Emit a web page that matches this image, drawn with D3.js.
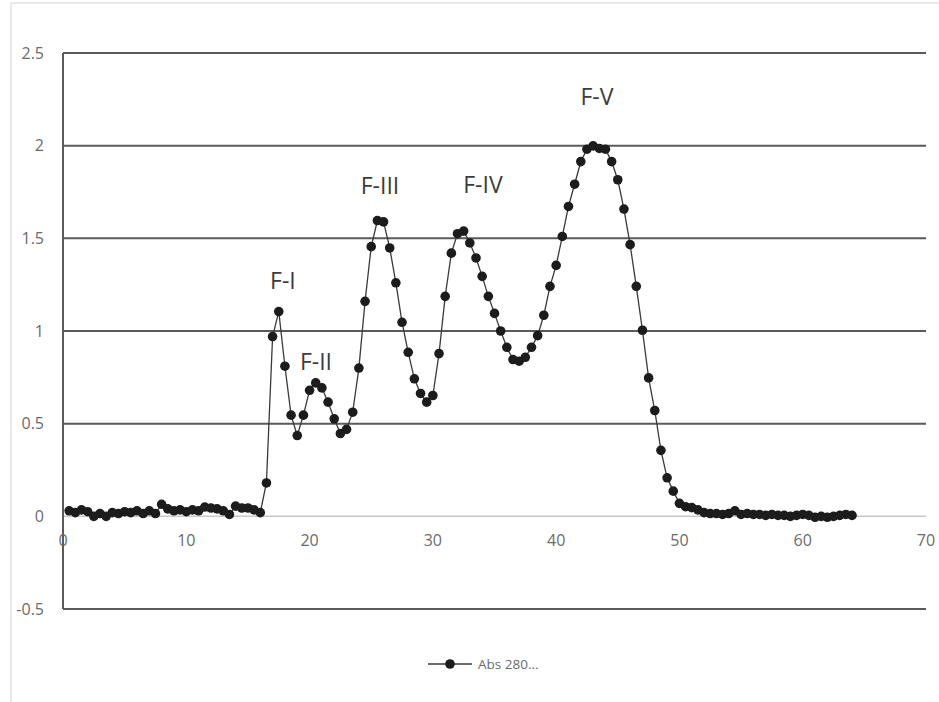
<!DOCTYPE html>
<meta charset="utf-8">
<script src="https://d3js.org/d3.v7.min.js"></script>
<style>
body { margin: 0; background: #fff; }
svg text { font-family: "Open Sans", "Liberation Sans", sans-serif; }
</style>
<body>
<div id="chart"></div>
<script>
// elution volume (x) and absorbance at 280 nm (y)
var volume = [0.5,1,1.5,2,2.5,3,3.5,4,4.5,5,5.5,6,6.5,7,7.5,8,8.5,9,9.5,10,
  10.5,11,11.5,12,12.5,13,13.5,14,14.5,15,15.5,16,16.5,17,17.5,18,18.5,19,19.5,20,
  20.5,21,21.5,22,22.5,23,23.5,24,24.5,25,25.5,26,26.5,27,27.5,28,28.5,29,29.5,30,
  30.5,31,31.5,32,32.5,33,33.5,34,34.5,35,35.5,36,36.5,37,37.5,38,38.5,39,39.5,40,
  40.5,41,41.5,42,42.5,43,43.5,44,44.5,45,45.5,46,46.5,47,47.5,48,48.5,49,49.5,50,
  50.5,51,51.5,52,52.5,53,53.5,54,54.5,55,55.5,56,56.5,57,57.5,58,58.5,59,59.5,60,
  60.5,61,61.5,62,62.5,63,63.5,64];
var abs280 = [0.03,0.02,0.035,0.025,0.0,0.015,0.0,0.02,0.015,0.025,0.02,0.03,0.015,0.03,0.015,0.065,0.04,0.03,0.035,0.025,
  0.035,0.03,0.05,0.045,0.04,0.03,0.01,0.055,0.045,0.045,0.035,0.02,0.18,0.97,1.105,0.81,0.546,0.436,0.546,0.68,
  0.72,0.693,0.616,0.526,0.447,0.469,0.562,0.80,1.16,1.455,1.596,1.589,1.448,1.26,1.047,0.885,0.742,0.663,0.616,0.652,
  0.878,1.187,1.42,1.525,1.539,1.475,1.394,1.295,1.187,1.095,1.0,0.912,0.846,0.837,0.858,0.912,0.975,1.085,1.241,1.354,
  1.51,1.672,1.792,1.914,1.981,1.999,1.985,1.981,1.914,1.816,1.658,1.466,1.241,1.004,0.747,0.571,0.356,0.208,0.136,0.07,
  0.052,0.047,0.035,0.02,0.015,0.015,0.01,0.015,0.03,0.01,0.015,0.01,0.01,0.005,0.01,0.005,0.005,0.0,0.005,0.01,
  0.005,-0.005,0.0,-0.005,0.0,0.005,0.01,0.005];

var xTicks = [0,10,20,30,40,50,60,70];
var yTicks = [-0.5,0,0.5,1,1.5,2,2.5];

// peak labels
var peakNames = ["F-I","F-II","F-III","F-IV","F-V"];
var peakX = [17.84, 20.52, 25.71, 34.06, 43.31];
var peakY = [1.224, 0.787, 1.737, 1.747, 2.217];

var W = 939, H = 702;
var svg = d3.select("#chart").append("svg")
  .attr("width", W).attr("height", H);

// chart frame (only top and left edges show)
svg.append("line").attr("x1", 11).attr("x2", 11).attr("y1", 3).attr("y2", H)
  .attr("stroke", "#e2e2e2").attr("stroke-width", 1.5);
svg.append("line").attr("x1", 11).attr("x2", W).attr("y1", 3).attr("y2", 3)
  .attr("stroke", "#e2e2e2").attr("stroke-width", 1.5);

var x = d3.scaleLinear().domain([0, 70]).range([63, 926]);
var y = d3.scaleLinear().domain([-0.5, 2.5]).range([609, 53]);

// horizontal gridlines
svg.append("g").selectAll("line")
  .data(yTicks)
  .enter().append("line")
    .attr("x1", x(0)).attr("x2", x(70))
    .attr("y1", function(d) { return y(d); })
    .attr("y2", function(d) { return y(d); })
    .attr("stroke", function(d) { return d === 0 ? "#c8c8c8" : "#5a5a5a"; })
    .attr("stroke-width", function(d) { return d === 0 ? 1.5 : 2; });

// vertical axis line
svg.append("line").attr("x1", x(0)).attr("x2", x(0))
  .attr("y1", y(2.5)).attr("y2", y(-0.5))
  .attr("stroke", "#5a5a5a").attr("stroke-width", 2);

// y tick labels
svg.append("g").selectAll("text")
  .data(yTicks)
  .enter().append("text")
    .attr("x", 44)
    .attr("y", function(d) { return y(d); })
    .attr("dy", "0.35em")
    .attr("text-anchor", "end")
    .attr("font-size", 16)
    .attr("fill", "#6b6b6b")
    .text(function(d) { return d; });

// x tick labels
svg.append("g").selectAll("text")
  .data(xTicks)
  .enter().append("text")
    .attr("x", function(d) { return x(d); })
    .attr("y", y(0) + 30)
    .attr("text-anchor", "middle")
    .attr("font-size", 16)
    .attr("fill", "#6b6b6b")
    .text(function(d) { return d; });

var pts = volume.map(function(v, i) { return [v, abs280[i]]; });

svg.append("path")
  .datum(pts)
  .attr("fill", "none")
  .attr("stroke", "#3a3a3a")
  .attr("stroke-width", 1.3)
  .attr("d", d3.line()
    .x(function(d) { return x(d[0]); })
    .y(function(d) { return y(d[1]); }));

svg.append("g").selectAll("circle")
  .data(pts)
  .enter().append("circle")
    .attr("cx", function(d) { return x(d[0]); })
    .attr("cy", function(d) { return y(d[1]); })
    .attr("r", 4.8)
    .attr("fill", "#1c1c1c");

// peak labels
svg.append("g").selectAll("text")
  .data(peakNames)
  .enter().append("text")
    .attr("x", function(d, i) { return x(peakX[i]); })
    .attr("y", function(d, i) { return y(peakY[i]); })
    .attr("text-anchor", "middle")
    .attr("font-family", "'Liberation Sans', Arial, sans-serif")
    .attr("font-size", 23)
    .attr("fill", "#3c3c3c")
    .text(function(d) { return d; });

// legend
var lg = svg.append("g").attr("transform", "translate(428,664)");
lg.append("line").attr("x1", 0).attr("x2", 44).attr("y1", 0).attr("y2", 0)
  .attr("stroke", "#3a3a3a").attr("stroke-width", 1.5);
lg.append("circle").attr("cx", 22).attr("cy", 0).attr("r", 4.8).attr("fill", "#1c1c1c");
lg.append("text").attr("x", 50).attr("y", 0).attr("dy", "0.35em")
  .attr("font-size", 13.5).attr("fill", "#6b6b6b").text("Abs 280...");
</script>
</body>
